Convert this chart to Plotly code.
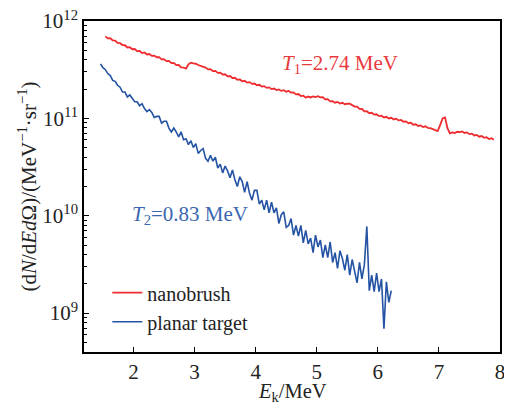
import numpy as np
import plotly.graph_objects as go

# ---- data (log10 of dN/dEdΩ) ----
red_x_start, red_step = 1.54, 0.04
red_log_y = [
    11.842, 11.822, 11.823, 11.800, 11.798, 11.775, 11.772, 11.753,
    11.751, 11.728, 11.731, 11.710, 11.712, 11.690, 11.692,
    11.671, 11.677, 11.656, 11.661, 11.642, 11.645, 11.628,
    11.629, 11.606, 11.609, 11.588, 11.590, 11.568, 11.570,
    11.547, 11.548, 11.524, 11.522, 11.512,
    11.555, 11.572, 11.565, 11.561,
    11.548, 11.540, 11.526, 11.521,
    11.503, 11.506, 11.485, 11.488, 11.467, 11.470, 11.450, 11.453, 11.432, 11.435, 11.414, 11.417, 11.397, 11.400,
    11.381, 11.386, 11.367, 11.372, 11.354, 11.358, 11.340, 11.345, 11.327, 11.331, 11.313, 11.318, 11.300,
    11.306, 11.290, 11.297, 11.282, 11.289, 11.274, 11.281,
    11.264, 11.267, 11.246, 11.250, 11.229, 11.233, 11.213,
    11.224, 11.215, 11.226, 11.219, 11.228,
    11.215, 11.217, 11.195, 11.197, 11.175, 11.177,
    11.161, 11.168, 11.152, 11.160, 11.145, 11.152, 11.150, 11.135,
    11.121, 11.120, 11.097, 11.096, 11.072,
    11.073, 11.053, 11.057, 11.038, 11.042, 11.023, 11.027,
    11.009, 11.016, 10.999, 11.006, 10.989, 10.996, 10.979,
    10.984, 10.965, 10.969, 10.950, 10.955, 10.935, 10.939,
    10.922, 10.928, 10.911, 10.918, 10.902, 10.899,
    10.892, 10.880, 10.870, 10.930, 11.000, 11.010, 10.900, 10.845, 10.855, 10.850,
    10.862, 10.858, 10.866, 10.850, 10.856, 10.838, 10.843, 10.824, 10.830, 10.812,
    10.818, 10.800, 10.806, 10.788, 10.796, 10.780,
]

blue_x_start, blue_step = 1.46, 0.04
blue_log_y = [
    11.56, 11.52, 11.50, 11.46, 11.44, 11.39, 11.38, 11.34, 11.32, 11.27,
    11.27, 11.22, 11.24, 11.21, 11.17, 11.17, 11.13, 11.15, 11.10, 11.07, 11.09, 11.06, 11.01, 11.02,
    11.02, 10.95, 10.97, 10.97, 10.90, 10.86, 10.90, 10.86, 10.81, 10.86, 10.78, 10.79, 10.73,
    10.77, 10.70, 10.74, 10.64, 10.67, 10.69, 10.59, 10.56, 10.62, 10.56, 10.60, 10.49, 10.53, 10.44, 10.51, 10.46,
    10.39, 10.47, 10.37, 10.30, 10.40, 10.35, 10.24, 10.35, 10.23, 10.16, 10.26, 10.26, 10.12, 10.16, 10.06, 10.16,
    10.03, 10.14, 10.03, 10.08, 9.92, 10.01, 10.04, 9.88, 9.90, 9.97, 9.80, 9.90, 9.79, 9.90, 9.72,
    9.85, 9.71, 9.77, 9.62, 9.80, 9.68, 9.75, 9.57, 9.70, 9.57, 9.73, 9.52, 9.62, 9.46, 9.64, 9.56, 9.44, 9.60,
    9.39, 9.55, 9.44, 9.31, 9.52, 9.35, 9.50, 9.89, 9.23, 9.39, 9.22, 9.41, 9.22, 9.35, 8.84, 9.32, 9.11, 9.23,
]

red_x = [round(red_x_start + i * red_step, 2) for i in range(len(red_log_y))]
blue_x = [round(blue_x_start + i * blue_step, 2) for i in range(len(blue_log_y))]
red_y = [10 ** v for v in red_log_y]
blue_y = [10 ** v for v in blue_log_y]

x_ticks = [2, 3, 4, 5, 6, 7, 8]
y_ticks = [1e9, 1e10, 1e11, 1e12]
y_tick_text = ["10<sup>9</sup>", "10<sup>10</sup>", "10<sup>11</sup>", "10<sup>12</sup>"]
y_minor = [m * 10 ** e for e in (8, 9, 10, 11) for m in range(2, 10) if 4e8 <= m * 10 ** e <= 1e12]

RED = "#EE2B2E"
BLUE = "#2453A4"
FONT = "Liberation Serif, Times New Roman, Times, serif"

fig = go.Figure()
fig.add_trace(go.Scatter(x=red_x, y=red_y, mode="lines", name="nanobrush",
                         line=dict(color=RED, width=1.8)))
fig.add_trace(go.Scatter(x=blue_x, y=blue_y, mode="lines", name="planar target",
                         line=dict(color=BLUE, width=1.6)))

fig.add_annotation(x=0.615, y=0.869, xref="paper", yref="paper", showarrow=False,
                   xanchor="center", yanchor="middle",
                   text="<i>T</i><sub>1</sub>=2.74 MeV",
                   font=dict(family=FONT, size=21, color="#E8393D"))
fig.add_annotation(x=0.256, y=0.415, xref="paper", yref="paper", showarrow=False,
                   xanchor="center", yanchor="middle",
                   text="<i>T</i><sub>2</sub>=0.83 MeV",
                   font=dict(family=FONT, size=21, color="#3B67B1"))
# x-axis title (placed as annotation for exact position)
fig.add_annotation(x=0.501, y=-0.121, xref="paper", yref="paper", showarrow=False,
                   xanchor="center", yanchor="middle",
                   text="<i>E</i><sub>k</sub>/MeV",
                   font=dict(family=FONT, size=20.5, color="#222"))

# page body has an 8 px margin, so the figure is slightly smaller and shifted
fig.update_layout(
    width=504, height=395,
    margin=dict(l=76, r=12, t=13, b=51, autoexpand=False),
    paper_bgcolor="white", plot_bgcolor="white",
    font=dict(family=FONT, size=20, color="#222"),
    showlegend=True,
    legend=dict(x=0.056, y=0.238, xanchor="left", yanchor="top",
                bgcolor="rgba(0,0,0,0)", font=dict(family=FONT, size=20, color="#222"),
                itemwidth=30, tracegroupgap=0),
)
fig.update_xaxes(range=[1.19, 8.0], tickvals=x_ticks, ticks="inside", ticklen=5,
                 tickwidth=1, tickcolor="black", showline=True, linecolor="black",
                 linewidth=1.5, mirror=True, showgrid=False, zeroline=False,
                 automargin=False,
                 tickfont=dict(family=FONT, size=21))
fig.update_yaxes(type="log", range=[8.6, 12.0], tickvals=y_ticks, ticktext=y_tick_text,
                 ticks="inside", ticklen=5, tickwidth=1, tickcolor="black",
                 ticklabeloverflow="allow",
                 minor=dict(tickvals=y_minor, ticks="inside", ticklen=3, tickcolor="black"),
                 showline=True, linecolor="black", linewidth=1.5, mirror=True,
                 showgrid=False, zeroline=False, automargin=False,
                 title=dict(text="(d<i>N</i>/d<i>E</i><i>d</i>Ω)/(MeV<sup>−1</sup>·sr<sup>−1</sup>)",
                            standoff=0, font=dict(family=FONT, size=21)),
                 tickfont=dict(family=FONT, size=21))

fig.write_html("out.html")
